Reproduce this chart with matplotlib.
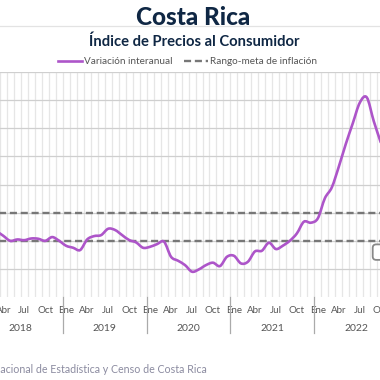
import matplotlib
matplotlib.use("Agg")
import matplotlib.pyplot as plt
from matplotlib.path import Path
from matplotlib.patches import PathPatch, FancyBboxPatch
from matplotlib.lines import Line2D
import matplotlib.transforms as mtransforms
import numpy as np

plt.rcParams['font.family'] = ['Lato', 'DejaVu Sans']

# month index 0 = Ene 2018; series starts at Mar 2018 (index 2)
start_month = 2
inflation = [2.70, 2.36, 2.00, 2.10, 2.05, 2.17, 2.15, 2.00, 2.27, 2.00,      # 2018 Mar-Dic
             1.65, 1.51, 1.35, 2.10, 2.34, 2.41, 2.86, 2.77, 2.41, 2.06, 1.89, 1.51,  # 2019
             1.58, 1.77, 1.94, 0.87, 0.59, 0.28, -0.19, -0.02, 0.28, 0.45, 0.21, 0.87,  # 2020
             0.94, 0.40, 0.52, 1.25, 1.30, 1.87, 1.42, 1.66, 2.01, 2.53, 3.36, 3.29,  # 2021
             3.60, 5.02, 5.80, 7.27, 8.88, 10.35, 11.81, 12.19, 10.50, 9.00]  # 2022 Ene-Oct
target_low = 2.0
target_high = 4.0
years = [2018, 2019, 2020, 2021, 2022]
month_labels = ['Ene', 'Abr', 'Jul', 'Oct']
yticks = [-2, 0, 2, 4, 6, 8, 10, 12, 14]

navy = '#0f2744'
purple = '#ad55c9'
dash_gray = '#777777'
text_gray = '#555555'
dash_style = (0, (3, 1.6))

fig = plt.figure(figsize=(3.8, 3.8), dpi=100)
W = H = 380.0
month_px = 6.99
x0_px = 62.7 - 12 * month_px
n_months = 12 * len(years)
ax = fig.add_axes([x0_px / W, 1 - 297.2 / H, n_months * month_px / W, 225.3 / H])
ax.set_xlim(0, n_months)
ax.set_ylim(yticks[0], yticks[-1])
for s in ax.spines.values():
    s.set_visible(False)

# grid
for m in range(n_months + 1):
    ax.axvline(m, color='#e6e6e6', lw=0.9, zorder=0)
for yv in yticks[1:]:
    ax.axhline(yv, color='#cfcfcf', lw=0.9, zorder=0.5)

# target band
ax.axhline(target_high, color=dash_gray, lw=1.7, ls=dash_style, zorder=2)
ax.axhline(target_low, color=dash_gray, lw=1.7, ls=dash_style, zorder=2)

# smoothed line through monthly points (Catmull-Rom as cubic Bezier)
xs = np.arange(len(inflation)) + start_month + 0.5
pts = np.column_stack([xs, inflation])
verts = [pts[0]]
codes = [Path.MOVETO]
for i in range(len(pts) - 1):
    p0 = pts[max(i - 1, 0)]
    p1 = pts[i]
    p2 = pts[i + 1]
    p3 = pts[min(i + 2, len(pts) - 1)]
    verts += [p1 + (p2 - p0) / 6.0, p2 - (p3 - p1) / 6.0, p2]
    codes += [Path.CURVE4] * 3
ax.add_patch(PathPatch(Path(verts, codes), facecolor='none', edgecolor=purple,
                       lw=1.9, capstyle='round', joinstyle='round', zorder=3))

# value label box at right edge
ax.add_patch(FancyBboxPatch((56.35, 0.65), 4.0, 1.1, boxstyle='round,pad=0,rounding_size=0.5',
                            mutation_aspect=0.5, facecolor='white', edgecolor='#888888',
                            lw=1.3, zorder=4, clip_on=False))

# x axis: months and years
ticks = []
labels = []
for yi in range(len(years)):
    for k, lab in enumerate(month_labels):
        ticks.append(12 * yi + 3 * k + 0.5)
        labels.append(lab)
ax.set_xticks(ticks)
ax.set_xticklabels(labels, fontsize=7, color=text_gray)
ax.tick_params(axis='x', length=0, pad=6)
ax.set_yticks([])

trans = mtransforms.blended_transform_factory(ax.transData, ax.transAxes)
for yi, yr in enumerate(years):
    ax.text(12 * yi + 6, -0.14, str(yr), transform=trans, ha='center', va='center',
            fontsize=7.5, color=text_gray)
for yi in range(1, len(years)):
    ax.add_line(Line2D([12 * yi, 12 * yi], [0, -0.16], transform=trans,
                       color='#aaaaaa', lw=0.9, clip_on=False))

# titles
fig.add_artist(Line2D([0, 1], [1 - 26 / H, 1 - 26 / H], color='#e3e3e3', lw=0.9))
fig.text(0.509, 1 - 25 / H, 'Costa Rica', ha='center', va='baseline',
         fontsize=17.5, fontweight='black', color=navy)
fig.text(0.51, 1 - 45.5 / H, 'Índice de Precios al Consumidor', ha='center', va='baseline',
         fontsize=10.6, fontweight='bold', color=navy)

# legend drawn by hand
ly = 1 - 61 / H
fig.add_artist(Line2D([58 / W, 82 / W], [ly, ly], color=purple, lw=1.9))
fig.text(84 / W, ly, 'Variación interanual', ha='left', va='center',
         fontsize=7.2, color=text_gray)
fig.add_artist(Line2D([184 / W, 208 / W], [ly, ly], color=dash_gray, lw=1.7, ls=dash_style))
fig.text(210 / W, ly, 'Rango-meta de inflación', ha='left', va='center',
         fontsize=7.2, color=text_gray)

fig.text(207 / W, 1 - 373 / H, 'Fuente: Instituto Nacional de Estadística y Censo de Costa Rica',
         ha='right', va='baseline', fontsize=7.7, color='#8b8ba0')

fig.savefig('out.png', dpi=100, facecolor='white')
